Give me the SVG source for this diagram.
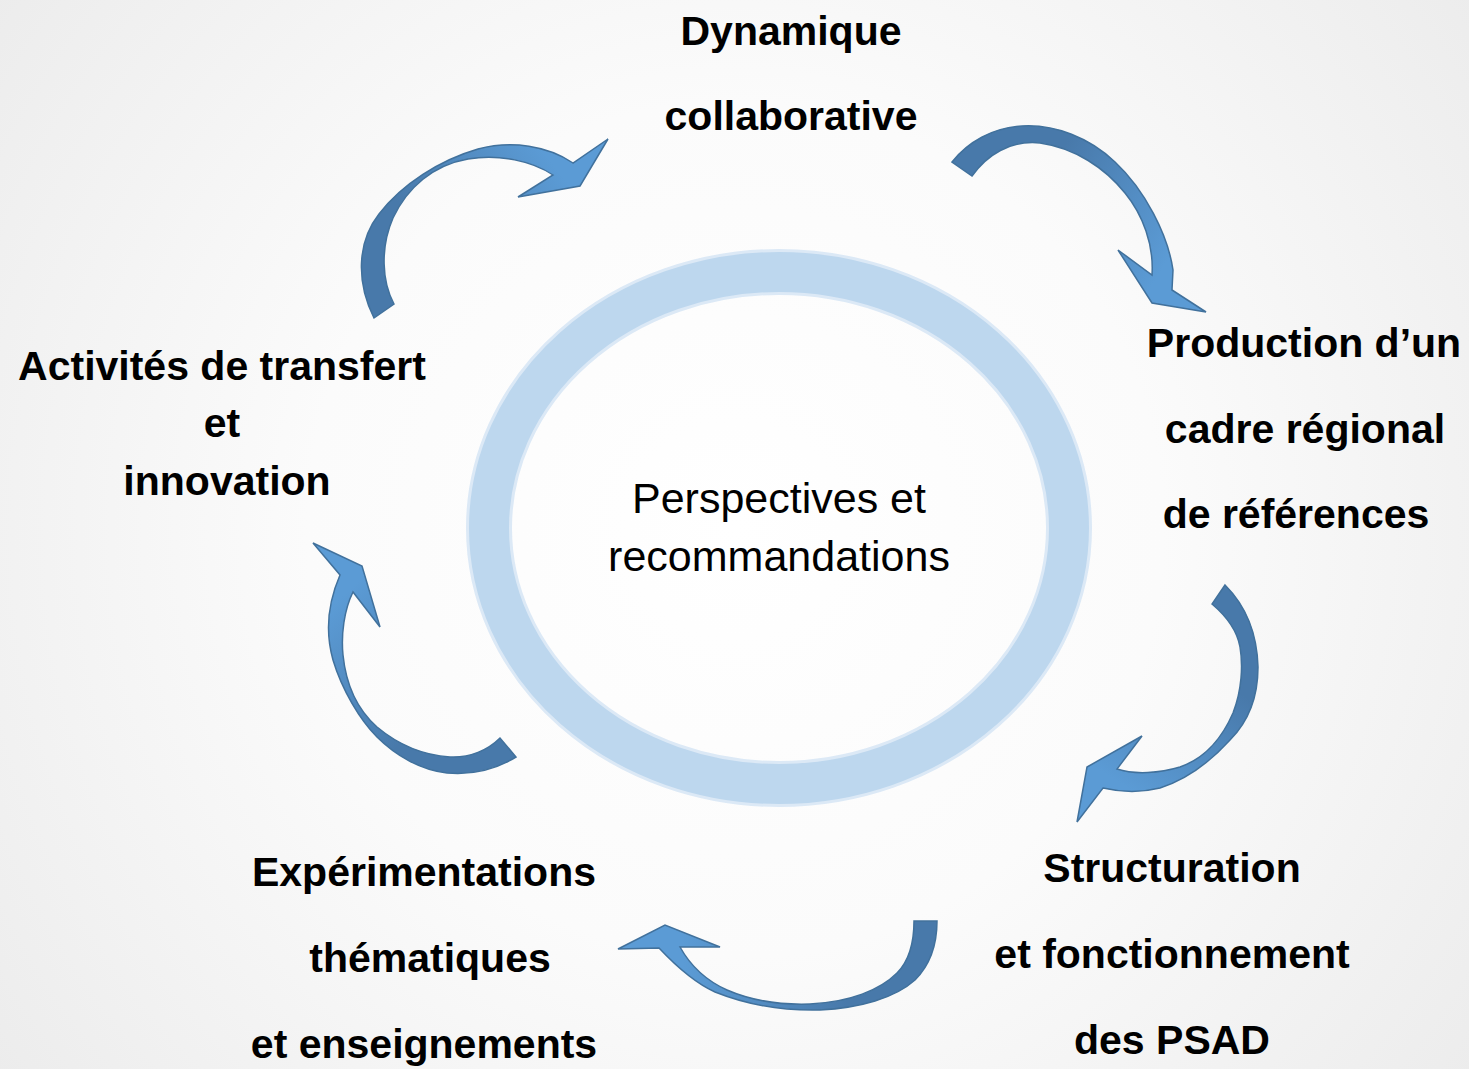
<svg xmlns="http://www.w3.org/2000/svg" width="1469" height="1069" viewBox="0 0 1469 1069">
<defs>
<radialGradient id="bg" cx="735" cy="530" r="950" gradientUnits="userSpaceOnUse">
<stop offset="0" stop-color="#FFFFFF"/>
<stop offset="0.45" stop-color="#FBFBFB"/>
<stop offset="1" stop-color="#EBEBEB"/>
</radialGradient>
<linearGradient id="g1" x1="374" y1="318" x2="608" y2="139" gradientUnits="userSpaceOnUse"><stop offset="0.3" stop-color="#4879AA"/><stop offset="0.8" stop-color="#5B9BD5"/></linearGradient>
<linearGradient id="g2" x1="952" y1="162" x2="1205" y2="312" gradientUnits="userSpaceOnUse"><stop offset="0.3" stop-color="#4879AA"/><stop offset="0.8" stop-color="#5B9BD5"/></linearGradient>
<linearGradient id="g3" x1="1225" y1="585" x2="1077" y2="822" gradientUnits="userSpaceOnUse"><stop offset="0.3" stop-color="#4879AA"/><stop offset="0.8" stop-color="#5B9BD5"/></linearGradient>
<linearGradient id="g4" x1="937" y1="921" x2="618" y2="949" gradientUnits="userSpaceOnUse"><stop offset="0.3" stop-color="#4879AA"/><stop offset="0.8" stop-color="#5B9BD5"/></linearGradient>
<linearGradient id="g5" x1="516" y1="757" x2="313" y2="543" gradientUnits="userSpaceOnUse"><stop offset="0.3" stop-color="#4879AA"/><stop offset="0.8" stop-color="#5B9BD5"/></linearGradient>
</defs>
<style>
.lbl{font-family:"Liberation Sans",Arial,sans-serif;font-weight:bold;font-size:41px;fill:#000;text-anchor:middle}
.ctr{font-family:"Liberation Sans",Arial,sans-serif;font-size:43px;fill:#000;text-anchor:middle}
.arr{stroke:#41719C;stroke-width:1.5;stroke-linejoin:miter}
</style>
<rect width="1469" height="1069" fill="url(#bg)"/>

<g id="center">
<ellipse cx="779" cy="528" rx="290" ry="256" fill="none" stroke="#DCE9F6" stroke-width="46"/>
<ellipse cx="779" cy="528" rx="290" ry="256" fill="none" stroke="#BDD7EE" stroke-width="40"/>
<text class="ctr" x="779" y="513">Perspectives et</text>
<text class="ctr" x="779" y="571">recommandations</text>
</g>

<g id="node-dynamique">
<text class="lbl" x="791" y="45">Dynamique</text>
<text class="lbl" x="791" y="130">collaborative</text>
</g>
<g id="node-production">
<text class="lbl" x="1304" y="357">Production d’un</text>
<text class="lbl" x="1305" y="443">cadre régional</text>
<text class="lbl" x="1296" y="528">de références</text>
</g>
<g id="node-structuration">
<text class="lbl" x="1172" y="882">Structuration</text>
<text class="lbl" x="1172" y="968">et fonctionnement</text>
<text class="lbl" x="1172" y="1054">des PSAD</text>
</g>
<g id="node-experimentations">
<text class="lbl" x="424" y="886">Expérimentations</text>
<text class="lbl" x="430" y="972">thématiques</text>
<text class="lbl" x="424" y="1058">et enseignements</text>
</g>
<g id="node-activites">
<text class="lbl" x="222" y="380">Activités de transfert</text>
<text class="lbl" x="222" y="437">et</text>
<text class="lbl" x="227" y="495">innovation</text>
</g>

<g id="connectors">
<path class="arr" fill="url(#g1)" d="M374 318 C356 282 357 242 379 214 C402 184 440 160 478 149 C512 140 548 146 573 163 L608 139 L580 186 L518 197 L553 175 C532 161 500 154 468 159 C433 165 407 188 393 218 C380 248 382 282 394 304 Z"/>
<path class="arr" fill="url(#g2)" d="M952 162 C968 142 992 128 1022 126 C1055 124 1090 138 1115 162 C1145 190 1168 235 1173 270 L1172 290 L1206 312 L1152 303 L1118 250 L1152 275 C1154 245 1143 215 1125 193 C1105 168 1075 148 1040 143 C1010 140 987 155 972 176 Z"/>
<path class="arr" fill="url(#g3)" d="M1225 585 C1245 605 1257 630 1258 667 C1258 695 1250 720 1230 740 C1210 762 1185 780 1160 788 C1140 793 1120 792 1103 788 L1077 822 L1087 767 L1142 736 L1117 769 C1135 775 1160 773 1180 767 C1200 760 1220 743 1233 713 C1242 690 1243 665 1240 647 C1237 630 1225 615 1212 604 Z"/>
<path class="arr" fill="url(#g4)" d="M937 921 C937 945 930 965 915 980 C895 998 860 1008 820 1010 C780 1011 745 1004 715 992 C695 983 675 965 659 948 L618 949 L665 925 L720 947 L680 947 C690 965 705 980 727 990 C750 1000 780 1005 810 1004 C850 1002 880 990 897 973 C910 960 914 940 914 921 Z"/>
<path class="arr" fill="url(#g5)" d="M516 757 C495 770 470 775 447 773 C420 770 395 755 377 737 C360 720 342 690 333 660 C326 635 327 605 340 575 L313 543 L362 566 L380 627 L353 592 C344 610 341 635 343 655 C346 685 358 710 377 727 C395 742 420 755 450 757 C470 758 488 750 500 738 Z"/>
</g>
</svg>
